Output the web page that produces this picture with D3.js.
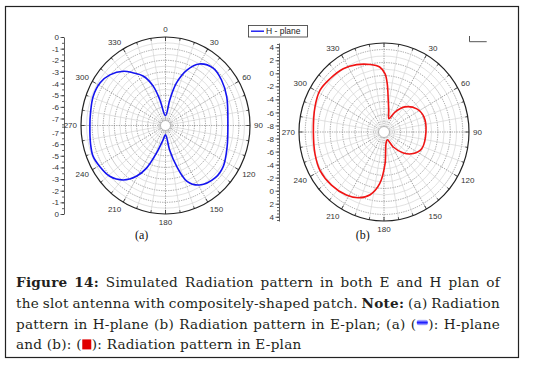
<!DOCTYPE html>
<html>
<head>
<meta charset="utf-8">
<script src="https://cdn.jsdelivr.net/npm/d3@7"></script>
<style>
  body { margin: 0; background: #fff; }
  svg { display: block; }
</style>
</head>
<body>
<svg id="fig" width="543" height="367"></svg>
<script>
// ---- data ----
const angleTicks = [0, 30, 60, 90, 120, 150, 180, 210, 240, 270, 300, 330];

// (a) H-plane, dB
const hAngles = [0, 10, 15, 22, 30, 41, 52, 66, 90, 108, 124, 135, 149, 158, 164, 170,
  180, 190, 199, 205, 211, 219, 229, 239, 248, 257, 270, 279, 291, 302, 311, 321, 327, 335, 342, 347];
const hValues = [-6.76, -5.36, -3.83, -2.46, -1.50, -1.07, -1.22, -1.57, -1.99, -1.77, -1.33, -1.26, -1.64, -2.43, -3.94, -5.47,
  -6.80, -6.35, -5.09, -3.56, -2.51, -1.58, -0.95, -0.72, -0.57, -0.68, -0.80, -0.77, -0.63, -0.67, -0.97, -1.60, -2.20, -2.93, -4.07, -5.33];

// (b) E-plane, dB
const eAngles = [1, 4, 8, 13, 21, 30, 41, 56, 70, 90, 113, 125, 136, 147, 156, 170,
  178, 185, 193, 202, 212, 226, 240, 253, 270, 289, 302, 313, 326, 337, 348, 356];
const eValues = [-0.06, -1.57, -4.09, -5.60, -6.80, -5.46, -3.89, -2.65, -2.18, -2.26, -2.43, -3.24, -4.52, -6.26, -7.70, -7.18,
  -4.14, -1.04, 0.87, 1.88, 2.41, 2.73, 2.85, 2.58, 2.34, 2.73, 3.11, 2.92, 2.70, 2.22, 1.58, 0.99];

const hRadialTicks = [0, -1, -2, -3, -4, -5, -6, -7];
const eRadialTicks = [4, 2, 0, -2, -4, -6, -8];

const captionLines = [
  "Figure 14: Simulated Radiation pattern in both E and H plan of",
  "the slot antenna with compositely-shaped patch. Note: (a) Radiation",
  "pattern in H-plane (b) Radiation pattern in E-plan; (a) ([H]): H-plane",
  "and (b): ([E]): Radiation pattern in E-plan"
];
const captionBold = ["Figure", "14:", "Note:"];

const svg = d3.select("#fig");
const sans = "Arial, 'Liberation Sans', sans-serif";
const serif = "'DejaVu Serif', 'Liberation Serif', serif";

// outer frame
svg.append("rect")
  .attr("x", 5.5).attr("y", 6.5)
  .attr("width", 513).attr("height", 351)
  .attr("fill", "none").attr("stroke", "#222").attr("stroke-width", 1.2);

function drawPolar(cfg) {
  const g = svg.append("g");
  const rs = d3.scaleLinear().domain(cfg.domain).range([0, 1]);
  const pt = (deg, f) => {
    const a = deg * Math.PI / 180;
    return [cfg.cx + cfg.rx * f * Math.sin(a), cfg.cy - cfg.ry * f * Math.cos(a)];
  };
  const holeF = cfg.hole / cfg.ry;

  // concentric grid
  const rings = d3.range(cfg.domain[1] - cfg.ringStep, cfg.domain[0], -cfg.ringStep)
    .filter(v => rs(v) > holeF);
  g.selectAll(".ring").data(rings).enter().append("ellipse")
    .attr("cx", cfg.cx).attr("cy", cfg.cy)
    .attr("rx", d => cfg.rx * rs(d)).attr("ry", d => cfg.ry * rs(d))
    .attr("fill", "none")
    .attr("stroke", d => cfg.isMajor(d) ? "#6a6a6a" : "#cfcfcf")
    .attr("stroke-dasharray", d => cfg.isMajor(d) ? "1.3,1.1" : null)
    .attr("stroke-width", 0.6);

  // spokes
  const spokes = d3.range(0, 360, 10);
  g.selectAll(".spoke").data(spokes).enter().append("line")
    .attr("x1", d => pt(d, holeF)[0]).attr("y1", d => pt(d, holeF)[1])
    .attr("x2", d => pt(d, 1)[0]).attr("y2", d => pt(d, 1)[1])
    .attr("stroke", d => d % 30 === 0 ? "#6a6a6a" : "#cfcfcf")
    .attr("stroke-dasharray", d => d % 30 === 0 ? "1.3,1.1" : null)
    .attr("stroke-width", 0.6);

  // outer circle + ticks
  g.append("ellipse")
    .attr("cx", cfg.cx).attr("cy", cfg.cy).attr("rx", cfg.rx).attr("ry", cfg.ry)
    .attr("fill", "none").attr("stroke", "#222").attr("stroke-width", 1.2);
  g.selectAll(".otick").data(d3.range(0, 360, 10)).enter().append("line")
    .attr("x1", d => pt(d, 1)[0]).attr("y1", d => pt(d, 1)[1])
    .attr("x2", d => pt(d, d % 30 === 0 ? 0.955 : 0.972)[0])
    .attr("y2", d => pt(d, d % 30 === 0 ? 0.955 : 0.972)[1])
    .attr("stroke", "#222").attr("stroke-width", 0.8);

  // centre hole
  g.append("ellipse")
    .attr("cx", cfg.cx).attr("cy", cfg.cy).attr("rx", cfg.hole).attr("ry", cfg.hole)
    .attr("fill", "#fff").attr("stroke", "#888").attr("stroke-width", 0.6);

  // pattern curve
  const pts = cfg.angles.map((a, i) => pt(a, rs(cfg.values[i])));
  g.append("path")
    .attr("d", d3.line().curve(d3.curveCatmullRomClosed.alpha(0.5))(pts))
    .attr("fill", "none").attr("stroke", cfg.color).attr("stroke-width", 1.6);

  // angle labels, anchored on the side facing the circle
  const side = d => Math.sin(d * Math.PI / 180);
  g.selectAll(".alab").data(angleTicks.filter(d => cfg.showZero || d !== 0)).enter().append("text")
    .attr("x", d => cfg.cx + (cfg.rx + 4) * side(d))
    .attr("y", d => cfg.cy - (cfg.ry + 8) * Math.cos(d * Math.PI / 180))
    .attr("dy", "0.35em")
    .attr("text-anchor", d => side(d) > 0.1 ? "start" : side(d) < -0.1 ? "end" : "middle")
    .attr("font-family", sans).attr("font-size", 8).attr("fill", "#333")
    .text(d => d);

  // radial axis, mirrored about the centre
  const minor = d3.range(cfg.domain[0], cfg.domain[1] + 1e-6, 0.5)
    .map(v => Math.round(v * 2) / 2).filter(v => v >= cfg.domain[0] && v <= cfg.domain[1]);
  [[cfg.cy, cfg.cy - cfg.ry], [cfg.cy, cfg.cy + cfg.ry]].forEach(range => {
    const y = d3.scaleLinear().domain(cfg.domain).range(range);
    svg.append("g").attr("transform", `translate(${cfg.axisX},0)`)
      .call(d3.axisLeft(y).tickValues(minor).tickSize(2).tickSizeOuter(0).tickFormat(""))
      .call(s => s.selectAll("line,path").attr("stroke", "#333").attr("stroke-width", 0.8));
    svg.append("g").attr("transform", `translate(${cfg.axisX},0)`)
      .call(d3.axisLeft(y).tickValues(cfg.radialTicks).tickSize(3.5).tickSizeOuter(0).tickPadding(1.5)
        .tickFormat(d => String(d)))
      .call(s => s.select(".domain").remove())
      .call(s => s.selectAll("line").attr("stroke", "#333").attr("stroke-width", 0.8))
      .call(s => s.selectAll("text").attr("font-family", sans).attr("font-size", 8).attr("fill", "#333"));
  });
}

drawPolar({
  cx: 165.5, cy: 125.5, rx: 84.5, ry: 88.5, hole: 5,
  domain: [-7.6, 0], ringStep: 0.5, isMajor: v => Math.abs(v - Math.round(v)) < 1e-6,
  angles: hAngles, values: hValues, color: "#1414f0",
  radialTicks: hRadialTicks, axisX: 64, showZero: true
});

drawPolar({
  cx: 384, cy: 132, rx: 85, ry: 89, hole: 5.5,
  domain: [-9, 4.65], ringStep: 1, isMajor: v => Math.round(v) % 2 === 0,
  angles: eAngles, values: eValues, color: "#f01414",
  radialTicks: eRadialTicks, axisX: 279, showZero: false
});

// legend
svg.append("rect").attr("x", 248.5).attr("y", 25.5).attr("width", 59).attr("height", 11.5)
  .attr("fill", "#fff").attr("stroke", "#333").attr("stroke-width", 0.8);
svg.append("line").attr("x1", 251).attr("x2", 264).attr("y1", 31.2).attr("y2", 31.2)
  .attr("stroke", "#1414f0").attr("stroke-width", 1.4);
svg.append("text").attr("x", 266).attr("y", 31.2).attr("dy", "0.35em")
  .attr("font-family", sans).attr("font-size", 8.5).attr("fill", "#222").text("H - plane");

// stray axis corner at top right of (b)
svg.append("path").attr("d", "M469.5,36V41.7H486.7")
  .attr("fill", "none").attr("stroke", "#555").attr("stroke-width", 1);

// sub-figure labels
svg.append("text").attr("x", 141.7).attr("y", 239).attr("text-anchor", "middle")
  .attr("font-family", "'Liberation Serif', serif").attr("font-size", 12).attr("fill", "#111").text("(a)");
svg.append("text").attr("x", 362.7).attr("y", 239).attr("text-anchor", "middle")
  .attr("font-family", "'Liberation Serif', serif").attr("font-size", 12).attr("fill", "#111").text("(b)");

// caption, justified like the journal layout
const cap = svg.append("g").attr("font-family", serif).attr("font-size", 13.6)
  .attr("letter-spacing", 0.25).attr("fill", "#231f20");
const capLeft = 16, capRight = 500, capTop = 287, capLead = 20.8;
const defs = svg.append("defs");
const gradH = defs.append("linearGradient").attr("id", "swH").attr("x1", 0).attr("y1", 0).attr("x2", 0).attr("y2", 1);
gradH.append("stop").attr("offset", "0%").attr("stop-color", "#dfe3ff");
gradH.append("stop").attr("offset", "50%").attr("stop-color", "#1a1aff");
gradH.append("stop").attr("offset", "100%").attr("stop-color", "#dfe3ff");

captionLines.forEach((line, i) => {
  const y = capTop + i * capLead;
  const items = line.split(" ").map(word => {
    const wg = cap.append("g");
    let x = 0;
    word.split(/(\[[HE]\])/).filter(s => s).forEach(part => {
      if (part === "[H]") {
        wg.append("rect").attr("x", x + 0.5).attr("y", -9).attr("width", 11).attr("height", 6).attr("rx", 2.5)
          .attr("fill", "url(#swH)");
        x += 12;
      } else if (part === "[E]") {
        wg.append("rect").attr("x", x + 0.5).attr("y", -10).attr("width", 9).attr("height", 10)
          .attr("fill", "#e00000");
        x += 10;
      } else {
        const t = wg.append("text").attr("x", x).text(part)
          .attr("font-weight", captionBold.includes(word) ? "bold" : null);
        x += t.node().getComputedTextLength();
      }
    });
    return { g: wg, w: x };
  });
  const total = d3.sum(items, d => d.w);
  const gap = i < captionLines.length - 1 ? (capRight - capLeft - total) / (items.length - 1) : 4.5;
  let x = capLeft;
  items.forEach(it => {
    it.g.attr("transform", `translate(${x},${y})`);
    x += it.w + gap;
  });
});
</script>
</body>
</html>
